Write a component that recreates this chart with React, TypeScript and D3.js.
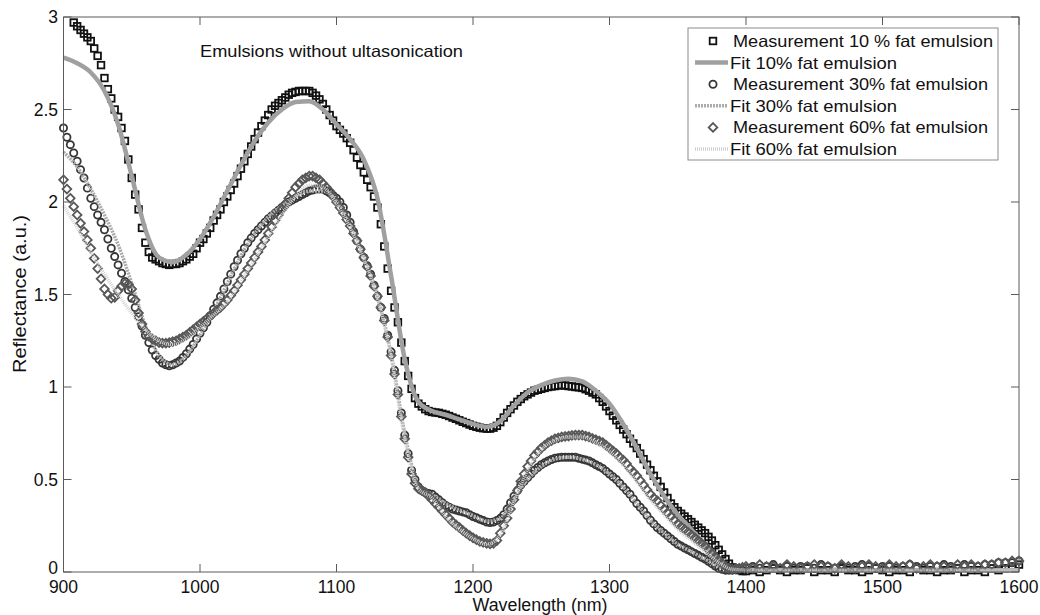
import React from "react";
import * as d3 from "d3";

// x grids: measurements every 2.5 nm up to 1400 nm, then every 5 nm
const measWl = [...d3.range(900, 1400, 2.5), ...d3.range(1400, 1601, 5)];
const fitWl = d3.range(900, 1601, 10);

// Measurement 10 % (squares)
const meas10: (number | null)[] = [
  null, null, null, 2.97, 2.95, 2.93, 2.91, 2.89, 2.87, 2.83,
  2.79, 2.74, 2.67, 2.61, 2.56, 2.50, 2.46, 2.40, 2.33, 2.23,
  2.13, 2.04, 1.96, 1.86, 1.78, 1.73, 1.70, 1.69, 1.68, 1.67,
  1.665, 1.66, 1.665, 1.665, 1.67, 1.68, 1.69, 1.705, 1.72, 1.75,
  1.78, 1.80, 1.83, 1.86, 1.90, 1.93, 1.96, 2.00, 2.03, 2.065,
  2.10, 2.14, 2.18, 2.22, 2.26, 2.30, 2.34, 2.375, 2.41, 2.44,
  2.47, 2.50, 2.52, 2.535, 2.55, 2.565, 2.58, 2.59, 2.595, 2.60,
  2.60, 2.60, 2.60, 2.59, 2.575, 2.555, 2.53, 2.50, 2.47, 2.44,
  2.41, 2.39, 2.37, 2.345, 2.32, 2.28, 2.24, 2.20, 2.16, 2.12,
  2.08, 2.03, 1.97, 1.88, 1.76, 1.64, 1.52, 1.43, 1.35, 1.24,
  1.14, 1.06, 0.99, 0.94, 0.91, 0.895, 0.88, 0.87, 0.865, 0.862,
  0.86, 0.855, 0.85, 0.843, 0.835, 0.828, 0.82, 0.812, 0.805, 0.797,
  0.79, 0.785, 0.78, 0.777, 0.775, 0.775, 0.78, 0.79, 0.81, 0.835,
  0.86, 0.88, 0.90, 0.92, 0.935, 0.95, 0.96, 0.97, 0.98, 0.985,
  0.99, 0.995, 1.00, 1.003, 1.005, 1.008, 1.01, 1.008, 1.005, 1.003,
  1.00, 0.998, 0.995, 0.988, 0.98, 0.97, 0.96, 0.94, 0.92, 0.895,
  0.87, 0.845, 0.82, 0.795, 0.77, 0.745, 0.72, 0.695, 0.67, 0.64,
  0.61, 0.58, 0.55, 0.52, 0.49, 0.46, 0.43, 0.40, 0.37, 0.35,
  0.33, 0.315, 0.30, 0.285, 0.27, 0.255, 0.24, 0.225, 0.21, 0.19,
  0.17, 0.145, 0.12, 0.095, 0.07, 0.045, 0.025, 0.015, 0.01, 0.005,
  // 1400 - 1600, 5 nm
  0.005, 0.01, 0.0, 0.01, 0.02, 0.01, 0.0, 0.01, 0.01, 0.02,
  0.0, 0.01, 0.01, 0.0, 0.02, 0.01, 0.01, 0.0, 0.01, 0.02,
  0.01, 0.0, 0.01, 0.01, 0.0, 0.02, 0.01, 0.01, 0.0, 0.01,
  0.01, 0.02, 0.0, 0.01, 0.01, 0.0, 0.02, 0.01, 0.02, 0.03,
  0.04,
];

// Measurement 30 % (circles)
const meas30: number[] = [
  2.40, 2.35, 2.31, 2.265, 2.22, 2.175, 2.13, 2.075, 2.02, 1.975,
  1.93, 1.89, 1.85, 1.80, 1.75, 1.705, 1.66, 1.615, 1.57, 1.525,
  1.48, 1.43, 1.38, 1.33, 1.28, 1.24, 1.20, 1.17, 1.15, 1.13,
  1.12, 1.115, 1.12, 1.13, 1.14, 1.16, 1.18, 1.205, 1.23, 1.26,
  1.29, 1.32, 1.35, 1.385, 1.42, 1.455, 1.49, 1.53, 1.57, 1.61,
  1.65, 1.685, 1.72, 1.75, 1.78, 1.805, 1.83, 1.85, 1.87, 1.89,
  1.91, 1.925, 1.94, 1.955, 1.97, 1.985, 2.00, 2.01, 2.02, 2.03,
  2.04, 2.05, 2.06, 2.065, 2.07, 2.07, 2.07, 2.06, 2.05, 2.035,
  2.02, 2.00, 1.97, 1.93, 1.89, 1.84, 1.79, 1.745, 1.70, 1.655,
  1.61, 1.55, 1.49, 1.43, 1.37, 1.28, 1.19, 1.09, 0.98, 0.86,
  0.74, 0.64, 0.55, 0.50, 0.46, 0.44, 0.43, 0.425, 0.42, 0.405,
  0.39, 0.375, 0.36, 0.35, 0.34, 0.335, 0.33, 0.325, 0.32, 0.31,
  0.30, 0.293, 0.285, 0.278, 0.27, 0.267, 0.27, 0.278, 0.29, 0.31,
  0.34, 0.375, 0.41, 0.44, 0.47, 0.49, 0.51, 0.53, 0.55, 0.565,
  0.58, 0.59, 0.60, 0.608, 0.615, 0.618, 0.62, 0.62, 0.62, 0.62,
  0.62, 0.615, 0.61, 0.605, 0.60, 0.59, 0.58, 0.57, 0.56, 0.545,
  0.53, 0.515, 0.50, 0.48, 0.46, 0.44, 0.42, 0.395, 0.37, 0.35,
  0.33, 0.305, 0.28, 0.26, 0.24, 0.225, 0.21, 0.195, 0.18, 0.165,
  0.15, 0.14, 0.13, 0.12, 0.11, 0.10, 0.09, 0.08, 0.07, 0.058,
  0.045, 0.032, 0.02, 0.015, 0.01, 0.01, 0.01, 0.015, 0.02, 0.02,
  // 1400 - 1600, 5 nm
  0.02, 0.03, 0.02, 0.03, 0.04, 0.02, 0.03, 0.02, 0.03, 0.03,
  0.02, 0.04, 0.03, 0.02, 0.03, 0.02, 0.03, 0.04, 0.03, 0.02,
  0.03, 0.03, 0.02, 0.03, 0.04, 0.03, 0.02, 0.03, 0.03, 0.04,
  0.03, 0.02, 0.04, 0.03, 0.03, 0.04, 0.04, 0.05, 0.05, 0.05,
  0.06,
];

// Measurement 60 % (diamonds)
const meas60: number[] = [
  2.12, 2.07, 2.02, 1.975, 1.93, 1.885, 1.84, 1.795, 1.75, 1.695,
  1.64, 1.585, 1.53, 1.50, 1.48, 1.485, 1.52, 1.545, 1.56, 1.555,
  1.53, 1.47, 1.40, 1.34, 1.30, 1.275, 1.26, 1.25, 1.24, 1.237,
  1.237, 1.24, 1.245, 1.25, 1.26, 1.27, 1.28, 1.295, 1.31, 1.325,
  1.34, 1.355, 1.37, 1.385, 1.40, 1.415, 1.43, 1.45, 1.47, 1.495,
  1.52, 1.55, 1.58, 1.61, 1.64, 1.67, 1.70, 1.73, 1.76, 1.795,
  1.83, 1.865, 1.90, 1.93, 1.96, 1.99, 2.02, 2.05, 2.08, 2.10,
  2.12, 2.13, 2.14, 2.14, 2.13, 2.12, 2.10, 2.08, 2.06, 2.03,
  2.00, 1.97, 1.94, 1.905, 1.87, 1.83, 1.79, 1.745, 1.70, 1.65,
  1.60, 1.545, 1.49, 1.43, 1.36, 1.27, 1.17, 1.07, 0.96, 0.84,
  0.72, 0.62, 0.53, 0.48, 0.45, 0.44, 0.43, 0.41, 0.39, 0.37,
  0.35, 0.33, 0.31, 0.29, 0.27, 0.255, 0.24, 0.225, 0.21, 0.197,
  0.185, 0.175, 0.165, 0.16, 0.155, 0.152, 0.155, 0.17, 0.21, 0.25,
  0.29, 0.34, 0.39, 0.44, 0.49, 0.53, 0.57, 0.60, 0.63, 0.65,
  0.67, 0.685, 0.70, 0.71, 0.72, 0.725, 0.73, 0.733, 0.735, 0.738,
  0.74, 0.74, 0.74, 0.735, 0.73, 0.722, 0.715, 0.708, 0.70, 0.685,
  0.67, 0.655, 0.64, 0.62, 0.605, 0.585, 0.56, 0.54, 0.52, 0.495,
  0.47, 0.445, 0.42, 0.40, 0.385, 0.36, 0.34, 0.32, 0.30, 0.28,
  0.26, 0.245, 0.23, 0.215, 0.20, 0.185, 0.17, 0.155, 0.14, 0.12,
  0.10, 0.083, 0.065, 0.048, 0.03, 0.02, 0.015, 0.018, 0.02, 0.025,
  // 1400 - 1600, 5 nm
  0.03, 0.02, 0.04, 0.03, 0.03, 0.02, 0.04, 0.03, 0.02, 0.03,
  0.04, 0.03, 0.03, 0.02, 0.04, 0.03, 0.02, 0.03, 0.04, 0.03,
  0.02, 0.04, 0.03, 0.03, 0.04, 0.02, 0.03, 0.04, 0.03, 0.03,
  0.02, 0.04, 0.03, 0.04, 0.03, 0.04, 0.04, 0.05, 0.05, 0.06,
  0.06,
];

// Fits, 10 nm steps
const fit10: number[] = [
  2.78, 2.75, 2.70, 2.60, 2.42, 2.14, 1.85, 1.70, 1.675, 1.715,
  1.80, 1.92, 2.06, 2.20, 2.33, 2.43, 2.50, 2.54, 2.545, 2.50,
  2.42, 2.34, 2.23, 2.02, 1.60, 1.15, 0.92, 0.87, 0.85, 0.825,
  0.80, 0.785, 0.815, 0.90, 0.97, 1.01, 1.035, 1.045, 1.03, 0.98,
  0.91, 0.80, 0.67, 0.53, 0.41, 0.31, 0.23, 0.145, 0.07, 0.02,
  0.01, 0.01, 0.01, 0.01, 0.01, 0.01, 0.01, 0.01, 0.01, 0.01,
  0.01, 0.01, 0.01, 0.01, 0.01, 0.01, 0.01, 0.01, 0.01, 0.01,
  0.01,
];
const fit30: number[] = [
  2.27, 2.19, 2.07, 1.93, 1.77, 1.56, 1.33, 1.17, 1.12, 1.17,
  1.28, 1.41, 1.56, 1.71, 1.83, 1.92, 1.98, 2.03, 2.06, 2.06,
  2.01, 1.89, 1.71, 1.49, 1.18, 0.75, 0.47, 0.42, 0.37, 0.335,
  0.305, 0.275, 0.29, 0.40, 0.50, 0.57, 0.61, 0.62, 0.61, 0.58,
  0.53, 0.46, 0.37, 0.28, 0.21, 0.15, 0.11, 0.07, 0.03, 0.01,
  0.01, 0.01, 0.01, 0.01, 0.01, 0.01, 0.01, 0.01, 0.01, 0.01,
  0.01, 0.01, 0.01, 0.01, 0.01, 0.01, 0.01, 0.01, 0.01, 0.01,
  0.01,
];
const fit60: number[] = [
  1.98, 1.86, 1.73, 1.61, 1.50, 1.40, 1.31, 1.25, 1.23, 1.26,
  1.32, 1.39, 1.46, 1.57, 1.69, 1.81, 1.93, 2.03, 2.09, 2.08,
  1.99, 1.86, 1.69, 1.48, 1.16, 0.72, 0.45, 0.40, 0.30, 0.23,
  0.18, 0.15, 0.20, 0.38, 0.55, 0.66, 0.71, 0.73, 0.73, 0.70,
  0.65, 0.58, 0.49, 0.39, 0.31, 0.23, 0.17, 0.11, 0.05, 0.015,
  0.01, 0.01, 0.01, 0.01, 0.01, 0.01, 0.01, 0.01, 0.01, 0.01,
  0.01, 0.01, 0.01, 0.01, 0.01, 0.01, 0.01, 0.01, 0.01, 0.01,
  0.01,
];

const xTicks = [900, 1000, 1100, 1200, 1300, 1400, 1500, 1600];
const yTicks = [0, 0.5, 1, 1.5, 2, 2.5, 3];
const legendLabels = [
  "Measurement 10 % fat emulsion",
  "Fit 10% fat emulsion",
  "Measurement 30% fat emulsion",
  "Fit 30% fat emulsion",
  "Measurement 60% fat emulsion",
  "Fit 60% fat emulsion",
];
const title = "Emulsions without ultasonication";

const FONT = "'Liberation Sans', Arial, Helvetica, sans-serif";

export default function App() {
  const L = 63.5, R = 1019, T = 17, B = 572;
  const x = d3.scaleLinear().domain([900, 1600]).range([L, R]);
  const y = d3.scaleLinear().domain([0, 3]).range([B, T]);

  const pts = (vals: (number | null)[], wl: number[]) =>
    wl.map((w, i) => ({ w, v: vals[i] })).filter((d) => d.v !== null && d.v !== undefined) as { w: number; v: number }[];

  const line = d3
    .line<{ w: number; v: number }>()
    .x((d) => x(d.w))
    .y((d) => y(d.v))
    .curve(d3.curveMonotoneX);

  const diamondType = (d3 as any).symbolDiamond2 || d3.symbolDiamond;
  const diamond = d3.symbol().type(diamondType).size(48)()!;

  const fit10Style = { stroke: "#a0a0a0", strokeWidth: 4.5, dash: undefined as string | undefined };
  const fit30Style = { stroke: "#ababab", strokeWidth: 3.5, dash: "2 1" };
  const fit60Style = { stroke: "#d0d0d0", strokeWidth: 3.5, dash: "1 1" };

  const m10 = pts(meas10, measWl);
  const m30 = pts(meas30, measWl);
  const m60 = pts(meas60, measWl);

  const legendRowY = (i: number) => 41 + i * 21.6;
  const legendWidths = [260, 167, 255, 167, 255, 167];

  const sq = 6.6;

  return (
    <svg width={1040} height={615} style={{ display: "block", position: "absolute", left: 0, top: 0, background: "#fff" }}>
      <rect x={0} y={0} width={1040} height={615} fill="#fff" />
      <defs>
        <clipPath id="plotclip">
          <rect x={L - 6} y={T} width={R - L + 12} height={B - T + 6} />
        </clipPath>
      </defs>
      <g clipPath="url(#plotclip)">
        {/* Measurement 10 */}
        {m10.map((d, i) => (
          <rect key={"s" + i} x={x(d.w) - sq / 2} y={y(d.v) - sq / 2} width={sq} height={sq} fill="none" stroke="#111" strokeWidth={1.8} />
        ))}
        <path d={line(pts(fit10, fitWl))!} fill="none" stroke={fit10Style.stroke} strokeWidth={fit10Style.strokeWidth} />
        {/* Measurement 30 */}
        {m30.map((d, i) => (
          <circle key={"c" + i} cx={x(d.w)} cy={y(d.v)} r={3.6} fill="none" stroke="#363636" strokeWidth={1.8} />
        ))}
        <path d={line(pts(fit30, fitWl))!} fill="none" stroke={fit30Style.stroke} strokeWidth={fit30Style.strokeWidth} strokeDasharray={fit30Style.dash} />
        {/* Measurement 60 */}
        {m60.map((d, i) => (
          <path key={"d" + i} d={diamond} transform={`translate(${x(d.w)},${y(d.v)})`} fill="none" stroke="#585858" strokeWidth={1.8} />
        ))}
        <path d={line(pts(fit60, fitWl))!} fill="none" stroke={fit60Style.stroke} strokeWidth={fit60Style.strokeWidth} strokeDasharray={fit60Style.dash} />
      </g>

      {/* frame */}
      <rect x={L} y={T} width={R - L} height={B - T} fill="none" stroke="#5a5a5a" strokeWidth={1} />
      {xTicks.map((t) => (
        <g key={"xt" + t}>
          <line x1={x(t)} x2={x(t)} y1={B} y2={B - 8} stroke="#5a5a5a" />
          <line x1={x(t)} x2={x(t)} y1={T} y2={T + 8} stroke="#5a5a5a" />
          <text x={x(t)} y={593} textAnchor="middle" fontFamily={FONT} fontSize={17.5} fill="#111">
            {t}
          </text>
        </g>
      ))}
      {yTicks.map((t) => (
        <g key={"yt" + t}>
          <line x1={L} x2={L + 8} y1={y(t)} y2={y(t)} stroke="#5a5a5a" />
          <line x1={R} x2={R - 8} y1={y(t)} y2={y(t)} stroke="#5a5a5a" />
          <text
            x={58}
            y={t === 0 ? y(t) - 3 : y(t) + 6}
            textAnchor="end"
            fontFamily={FONT}
            fontSize={17.5}
            fill="#111"
            dominantBaseline={t === 0 ? "middle" : undefined}
          >
            {t}
          </text>
        </g>
      ))}

      {/* axis labels */}
      <text x={540} y={611} textAnchor="middle" fontFamily={FONT} fontSize={17.5} fill="#111" textLength={135} lengthAdjust="spacingAndGlyphs">
        Wavelength (nm)
      </text>
      <text transform="translate(26,294) rotate(-90)" textAnchor="middle" fontFamily={FONT} fontSize={17.5} fill="#111" textLength={158} lengthAdjust="spacingAndGlyphs">
        Reflectance (a.u.)
      </text>

      {/* title */}
      <text x={200} y={57} fontFamily={FONT} fontSize={16.5} fill="#111" textLength={263} lengthAdjust="spacingAndGlyphs">
        {title}
      </text>

      {/* legend */}
      <rect x={688} y={28} width={310} height={132} fill="#fff" stroke="#8c8c8c" strokeWidth={1} />
      {legendLabels.map((lab, i) => {
        const cy = legendRowY(i);
        const isMeas = i % 2 === 0;
        const tx = isMeas ? 733 : 730;
        return (
          <g key={"lg" + i}>
            {i === 0 && <rect x={713 - sq / 2} y={cy - sq / 2} width={sq} height={sq} fill="none" stroke="#111" strokeWidth={1.8} />}
            {i === 2 && <circle cx={713} cy={cy} r={3.6} fill="none" stroke="#363636" strokeWidth={1.8} />}
            {i === 4 && <path d={diamond} transform={`translate(713,${cy})`} fill="none" stroke="#585858" strokeWidth={1.8} />}
            {i === 1 && <line x1={695} x2={728} y1={cy} y2={cy} stroke={fit10Style.stroke} strokeWidth={fit10Style.strokeWidth} />}
            {i === 3 && <line x1={695} x2={728} y1={cy} y2={cy} stroke={fit30Style.stroke} strokeWidth={fit30Style.strokeWidth} strokeDasharray={fit30Style.dash} />}
            {i === 5 && <line x1={695} x2={728} y1={cy} y2={cy} stroke={fit60Style.stroke} strokeWidth={fit60Style.strokeWidth} strokeDasharray={fit60Style.dash} />}
            <text x={tx} y={cy + 6} fontFamily={FONT} fontSize={16.5} fill="#111" textLength={legendWidths[i]} lengthAdjust="spacingAndGlyphs">
              {lab}
            </text>
          </g>
        );
      })}
    </svg>
  );
}
